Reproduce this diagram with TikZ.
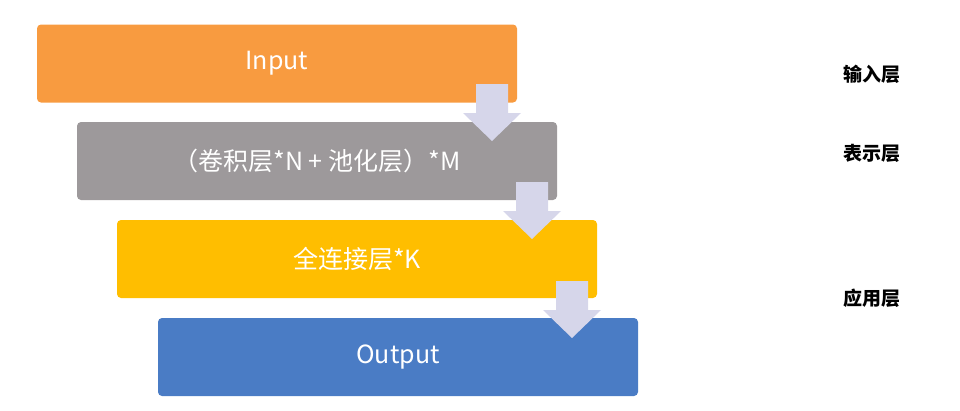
\documentclass[tikz,border=0pt]{standalone}
\usepackage{fontspec}
\setmainfont{Noto Sans CJK SC}
\begin{document}
\begin{tikzpicture}[x=1pt,y=-1pt,
  layer/.style={rounded corners=4pt,minimum width=480pt,minimum height=78pt,inner sep=0pt,text=white,font=\fontsize{25}{28}\selectfont},
  side/.style={font=\fontsize{19}{22}\selectfont\bfseries,text=black},
  flow/.style={fill=arrowc,draw=none}]
\definecolor{c1}{HTML}{F89B40}
\definecolor{c2}{HTML}{9D999B}
\definecolor{c3}{HTML}{FFBE00}
\definecolor{c4}{HTML}{4A7CC5}
\definecolor{arrowc}{HTML}{D6D6EA}
\useasboundingbox (0,0) rectangle (960,410);
\node[layer,fill=c1] (in) at (277,63.5) {Input};
\node[layer,fill=c2] (rep) at (317,161) {（卷积层*N + 池化层）*M};
\node[layer,fill=c3] (fc) at (357,259) {全连接层*K};
\node[layer,fill=c4] (out) at (398,357) {Output};
\node[side] (l1) at (872,74) {输入层};
\node[side] (l2) at (872,153) {表示层};
\node[side] (l3) at (872,298) {应用层};
\foreach \a/\dx/\dy in {1/0/0,2/40/98,3/80/197}{
  \fill[flow,shift={(\dx,\dy)}] (476,84) -- (508,84) -- (508,113) -- (521,113) -- (492,141) -- (463,113) -- (476,113) -- cycle;
}
\end{tikzpicture}
\end{document}
